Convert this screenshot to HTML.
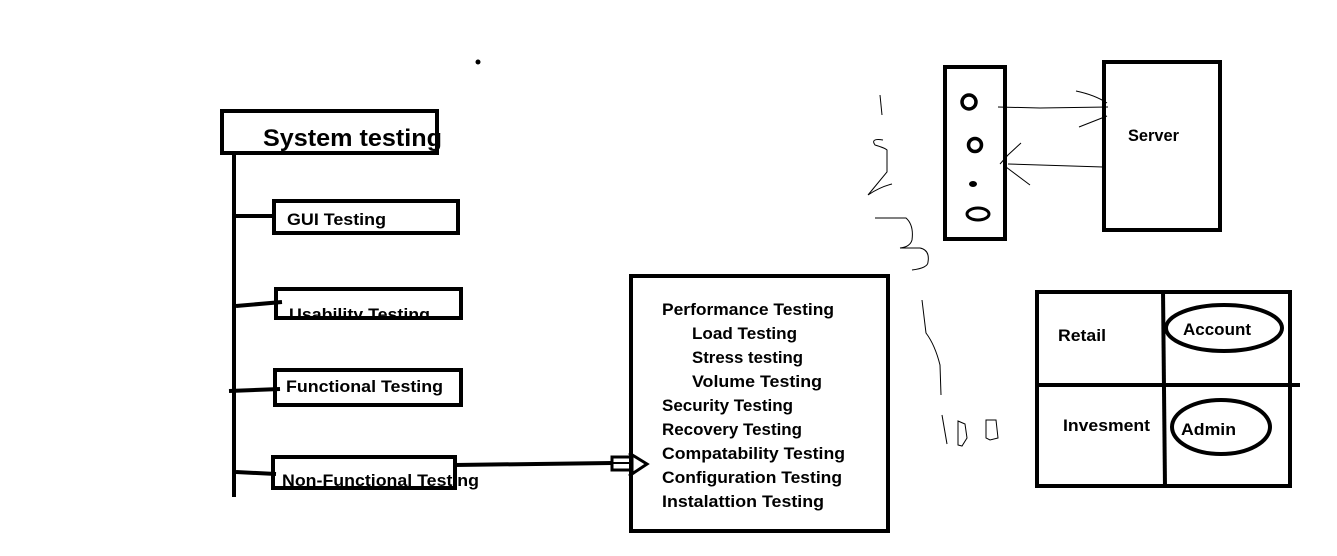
<!DOCTYPE html>
<html><head><meta charset="utf-8"><style>
html,body{margin:0;padding:0;background:#fff;}
svg{display:block;}
text{font-family:"Liberation Sans",sans-serif;font-weight:bold;fill:#000;}
</style></head><body>
<svg width="1337" height="556" viewBox="0 0 1337 556" xmlns="http://www.w3.org/2000/svg">
<defs><clipPath id="uc"><rect x="0" y="0" width="1337" height="317"/></clipPath></defs>
<circle cx="478" cy="62" r="2.5" fill="#000"/>
<!-- System testing -->
<rect x="222" y="111" width="215" height="42" fill="none" stroke="#000" stroke-width="4"/>
<text x="263" y="146" font-size="24" textLength="179" lengthAdjust="spacingAndGlyphs">System testing</text>
<line x1="234" y1="153" x2="234" y2="497" stroke="#000" stroke-width="4"/>
<!-- GUI -->
<rect x="274" y="201" width="184" height="32" fill="none" stroke="#000" stroke-width="4"/>
<text x="287" y="225" font-size="17" textLength="99" lengthAdjust="spacingAndGlyphs">GUI Testing</text>
<line x1="236" y1="216" x2="276" y2="216" stroke="#000" stroke-width="4"/>
<!-- Usability -->
<text x="289" y="320" font-size="17" clip-path="url(#uc)" textLength="141" lengthAdjust="spacingAndGlyphs">Usability Testing</text>
<rect x="276" y="289" width="185" height="29" fill="none" stroke="#000" stroke-width="4"/>
<line x1="236" y1="306" x2="282" y2="302" stroke="#000" stroke-width="4"/>
<!-- Functional -->
<rect x="275" y="370" width="186" height="35" fill="none" stroke="#000" stroke-width="4"/>
<text x="286" y="392" font-size="17" textLength="157" lengthAdjust="spacingAndGlyphs">Functional Testing</text>
<line x1="229" y1="391" x2="280" y2="389" stroke="#000" stroke-width="4"/>
<!-- Non-Functional -->
<rect x="273" y="457" width="182" height="31" fill="none" stroke="#000" stroke-width="4"/>
<text x="282" y="486" font-size="17" textLength="197" lengthAdjust="spacingAndGlyphs">Non-Functional Testing</text>
<line x1="236" y1="472" x2="276" y2="474" stroke="#000" stroke-width="4"/>
<!-- arrow -->
<line x1="455" y1="465" x2="612" y2="463" stroke="#000" stroke-width="4"/>
<rect x="612" y="457" width="20" height="13" fill="none" stroke="#000" stroke-width="3"/>
<line x1="612" y1="463" x2="632" y2="463" stroke="#000" stroke-width="2"/>
<polyline points="629,453 647,464 629,476" fill="none" stroke="#000" stroke-width="3"/>
<!-- big box -->
<rect x="631" y="276" width="257" height="255" fill="none" stroke="#000" stroke-width="4"/>
<g font-size="17">
<text x="662" y="315" textLength="172" lengthAdjust="spacingAndGlyphs">Performance Testing</text>
<text x="692" y="339" textLength="105" lengthAdjust="spacingAndGlyphs">Load Testing</text>
<text x="692" y="363" textLength="111" lengthAdjust="spacingAndGlyphs">Stress testing</text>
<text x="692" y="387" textLength="130" lengthAdjust="spacingAndGlyphs">Volume Testing</text>
<text x="662" y="411" textLength="131" lengthAdjust="spacingAndGlyphs">Security Testing</text>
<text x="662" y="435" textLength="140" lengthAdjust="spacingAndGlyphs">Recovery Testing</text>
<text x="662" y="459" textLength="183" lengthAdjust="spacingAndGlyphs">Compatability Testing</text>
<text x="662" y="483" textLength="180" lengthAdjust="spacingAndGlyphs">Configuration Testing</text>
<text x="662" y="507" textLength="162" lengthAdjust="spacingAndGlyphs">Instalattion Testing</text>
</g>
<!-- device -->
<rect x="945" y="67" width="60" height="172" fill="none" stroke="#000" stroke-width="4"/>
<circle cx="969" cy="102" r="7" fill="none" stroke="#000" stroke-width="3.5"/>
<circle cx="975" cy="145" r="6.5" fill="none" stroke="#000" stroke-width="3.5"/>
<ellipse cx="973" cy="184" rx="4" ry="3" fill="#000"/>
<ellipse cx="978" cy="214" rx="11" ry="6" fill="none" stroke="#000" stroke-width="3"/>
<!-- server -->
<rect x="1104" y="62" width="116" height="168" fill="none" stroke="#000" stroke-width="4"/>
<text x="1128" y="141" font-size="17" textLength="51" lengthAdjust="spacingAndGlyphs">Server</text>
<g stroke="#000" stroke-width="1" fill="none">
<path d="M998,107 L1040,108 L1108,107"/>
<path d="M1076,91 Q1095,95 1107,103"/>
<path d="M1079,127 L1107,116"/>
<path d="M1103,167 L1008,164"/>
<path d="M1021,143 L1008,155 L1000,164"/>
<path d="M1006,167 L1030,185"/>
<!-- scribbles -->
<path d="M880,95 L882,115"/>
<path d="M883,140 Q870,138 875,145 Q885,148 887,150 L887,172 L868,195 M868,195 Q880,187 892,184"/>
<path d="M875,218 L906,218 Q914,225 912,240 Q910,247 900,248 L920,248 Q930,250 928,262 Q928,268 912,270"/>
<path d="M922,300 L926,333 Q935,345 940,365 L941,395"/>
<path d="M942,415 L947,444"/>
<path d="M958,421 L965,424 L967,438 L962,446 L958,445 Z"/>
<path d="M986,420 L996,420 L998,438 L990,440 L986,438 Z"/>
</g>
<!-- table -->
<rect x="1037" y="292" width="253" height="194" fill="none" stroke="#000" stroke-width="4"/>
<line x1="1163" y1="290" x2="1165" y2="488" stroke="#000" stroke-width="4"/>
<line x1="1037" y1="385" x2="1300" y2="385" stroke="#000" stroke-width="4"/>
<text x="1058" y="341" font-size="17" textLength="48" lengthAdjust="spacingAndGlyphs">Retail</text>
<text x="1063" y="431" font-size="17" textLength="87" lengthAdjust="spacingAndGlyphs">Invesment</text>
<ellipse cx="1224" cy="328" rx="58" ry="23" fill="none" stroke="#000" stroke-width="4"/>
<text x="1183" y="335" font-size="17" textLength="68" lengthAdjust="spacingAndGlyphs">Account</text>
<ellipse cx="1221" cy="427" rx="49" ry="27" fill="none" stroke="#000" stroke-width="4"/>
<text x="1181" y="435" font-size="17" textLength="55" lengthAdjust="spacingAndGlyphs">Admin</text>
</svg>
</body></html>
